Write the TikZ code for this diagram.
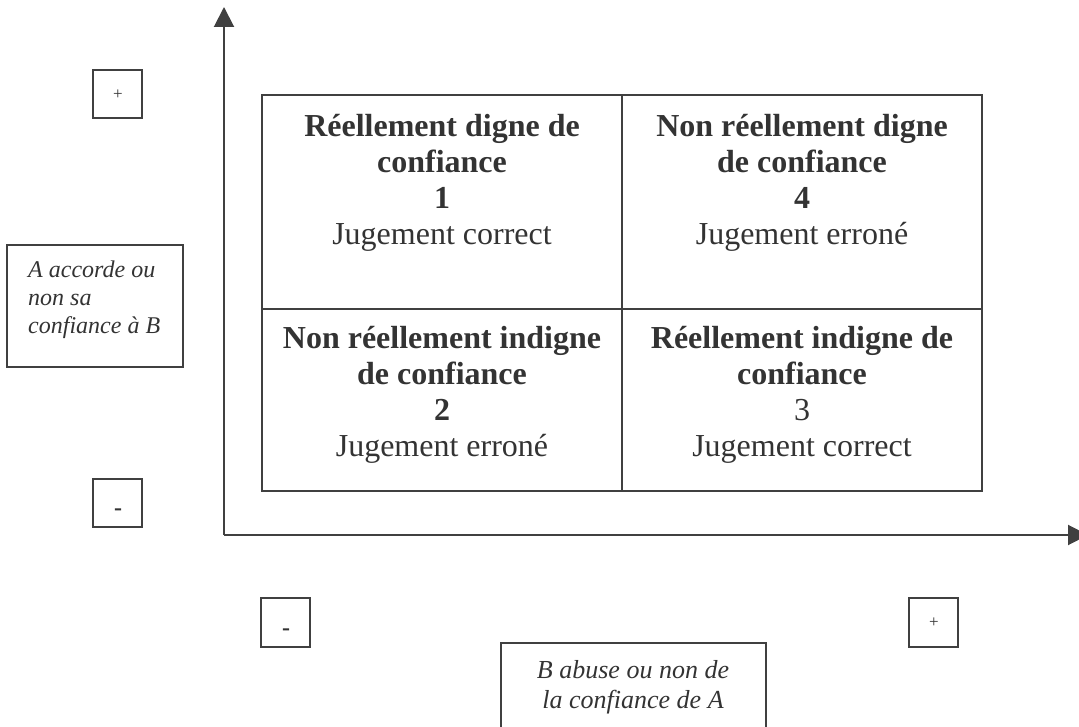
\documentclass[tikz,border=0pt]{standalone}
\usepackage{fontspec}
\setmainfont{Liberation Serif}
\usetikzlibrary{arrows.meta}
\definecolor{ink}{HTML}{404040}
\definecolor{txt}{HTML}{333333}
\begin{document}
\begin{tikzpicture}[x=1pt,y=-1pt,
  frame/.style={draw=ink,line width=2pt,inner sep=0pt,outer sep=0pt},
  cell/.style={anchor=north,inner sep=0pt,align=center,text=txt,font=\fontsize{32}{36}\selectfont},
  note/.style 2 args={anchor=north,inner sep=0pt,text=txt,font=\fontsize{#1}{#2}\selectfont\itshape},
  sign/.style={inner sep=0pt,text=txt},
  axis/.style={draw=ink,line width=2pt,-{Triangle[length=20pt,width=20pt]}}]
\useasboundingbox (0,0) rectangle (1079,727);
% axes
\coordinate (O) at (224,535);
\coordinate (ytip) at (224,7);
\coordinate (xtip) at (1088,535);
\draw[axis] (O) -- (ytip);
\draw[axis] (O) -- (xtip);
% grid
\draw[frame] (262,95) rectangle (982,491);
\draw[frame] (622,95) -- (622,491);
\draw[frame] (262,309) -- (982,309);
% cell texts
\node[cell] (c1) at (442,104) {\rule{0pt}{32pt}\textbf{Réellement digne de}\\\textbf{confiance}\\\textbf{1}\\Jugement correct};
\node[cell] (c4) at (802,104) {\rule{0pt}{32pt}\textbf{Non réellement digne}\\\textbf{de confiance}\\\textbf{4}\\Jugement erroné};
\node[cell] (c2) at (442,316) {\rule{0pt}{32pt}\textbf{Non réellement indigne}\\\textbf{de confiance}\\\textbf{2}\\Jugement erroné};
\node[cell] (c3) at (802,316) {\rule{0pt}{32pt}\textbf{Réellement indigne de}\\\textbf{confiance}\\3\\Jugement correct};
% left label
\node[frame,minimum width=176pt,minimum height=122pt] (lbox) at (95,306) {};
\node[note={24}{28},anchor=north west,align=left] (ltext) at (28,253) {\rule{0pt}{24pt}A accorde ou\\non sa\\confiance à B};
% bottom label
\node[frame,minimum width=265pt,minimum height=120pt] (bbox) at (633.5,703) {};
\node[note={26}{30},align=center] (btext) at (633,652) {\rule{0pt}{26pt}B abuse ou non de\\la confiance de A};
% sign boxes
\node[frame,minimum width=49pt,minimum height=48pt] (yplus) at (117.5,94) {};
\node[sign,font=\fontsize{17}{17}\selectfont] (yplust) at (118,95) {+};
\node[frame,minimum width=49pt,minimum height=48pt] (yminus) at (117.5,503) {};
\node[sign,font=\fontsize{24}{24}\selectfont\bfseries] (yminust) at (118,512) {-};
\node[frame,minimum width=49pt,minimum height=49pt] (xminus) at (285.5,622.5) {};
\node[sign,font=\fontsize{24}{24}\selectfont\bfseries] (xminust) at (286,632) {-};
\node[frame,minimum width=49pt,minimum height=49pt] (xplus) at (933.5,622.5) {};
\node[sign,font=\fontsize{17}{17}\selectfont] (xplust) at (934,623) {+};
\end{tikzpicture}
\end{document}
